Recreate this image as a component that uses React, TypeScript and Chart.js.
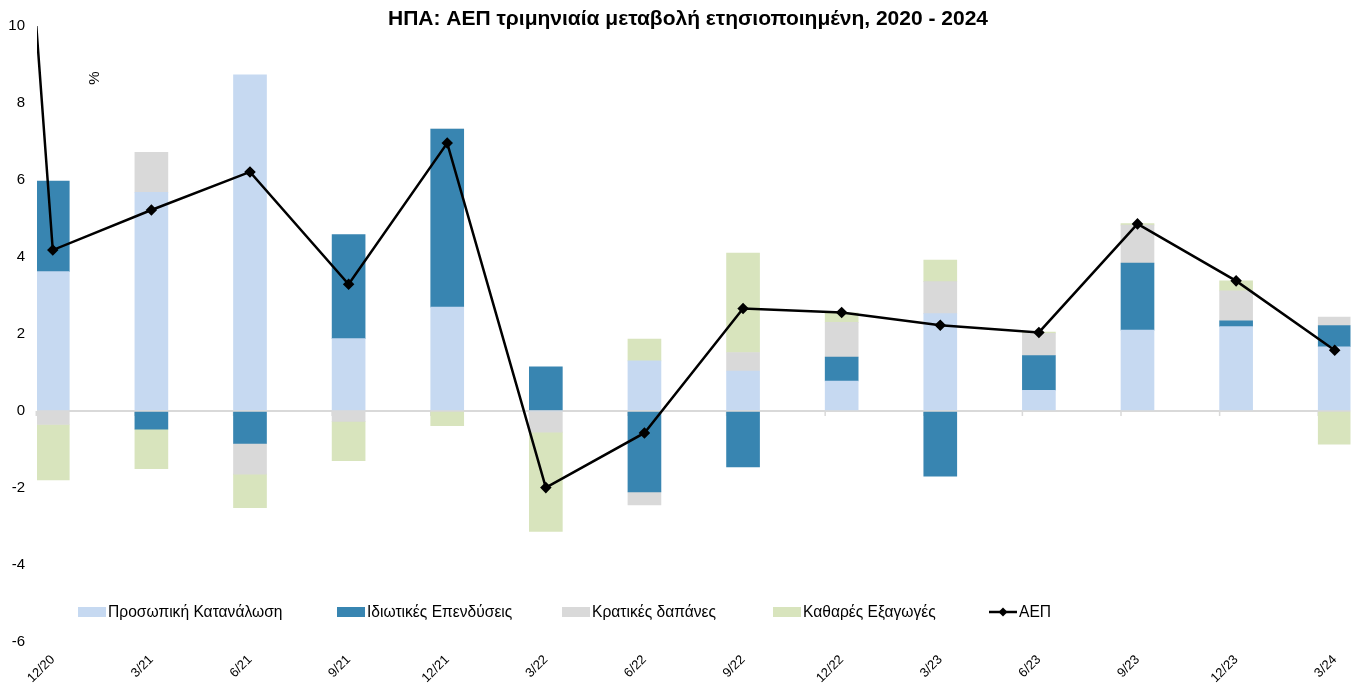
import React, { useEffect, useRef } from "react";
import { Chart, registerables } from "chart.js";

Chart.register(...registerables);

const TITLE = "ΗΠΑ: ΑΕΠ τριμηνιαία μεταβολή ετησιοποιημένη, 2020 - 2024";
const UNIT = "%";
const labels = ["12/20", "3/21", "6/21", "9/21", "12/21", "3/22", "6/22", "9/22", "12/22", "3/23", "6/23", "9/23", "12/23", "3/24"];
const seriesNames = ["Προσωπική Κατανάλωση", "Ιδιωτικές Επενδύσεις", "Κρατικές δαπάνες", "Καθαρές Εξαγωγές", "ΑΕΠ"];
const consumption = [3.62, 5.68, 8.73, 1.88, 2.7, 0, 1.3, 1.04, 0.78, 2.53, 0.54, 2.1, 2.19, 1.67];
const investment = [2.35, -0.47, -0.84, 2.7, 4.62, 1.15, -2.1, -1.45, 0.62, -1.69, 0.9, 1.74, 0.15, 0.55];
const government = [-0.35, 1.04, -0.8, -0.27, 0, -0.55, -0.34, 0.48, 0.9, 0.83, 0.58, 0.99, 0.78, 0.22];
const netExports = [-1.44, -1.03, -0.87, -1.02, -0.38, -2.58, 0.57, 2.58, 0.25, 0.56, 0.03, 0.04, 0.26, -0.86];
const gdp = [4.18, 5.22, 6.21, 3.29, 6.96, -1.99, -0.57, 2.66, 2.56, 2.23, 2.04, 4.86, 3.38, 1.58];
// previous quarter (9/20), outside the visible range; the line to it is clipped
const gdpPrevious = 39;
const yTicks = { min: -6, max: 10, step: 2 };

const colors = ["#c6d9f1", "#3885b1", "#d9d9d9", "#d8e4bd", "#000000"];
const FONT = "'Liberation Sans', Arial, sans-serif";
const BAR_W = 33;

export default function App() {
  const ref = useRef<HTMLCanvasElement | null>(null);
  useEffect(() => {
    document.body.style.margin = "0";
    const canvas = ref.current;
    if (!canvas) return;
    const toPts = (arr: number[]) => arr.map((v, i) => ({ x: i, y: v }));
    const barSets = [consumption, investment, government, netExports].map((arr, k) => ({
      type: "bar" as const,
      label: seriesNames[k],
      data: toPts(arr),
      backgroundColor: colors[k],
      borderWidth: 0,
      barThickness: BAR_W,
      stack: "bars",
      order: 1,
    }));
    const lineSet = {
      type: "line" as const,
      label: seriesNames[4],
      data: [{ x: -1, y: gdpPrevious }, ...toPts(gdp)],
      borderColor: colors[4],
      backgroundColor: colors[4],
      borderWidth: 2.5,
      pointStyle: "rectRot" as const,
      pointRadius: 4,
      pointHoverRadius: 4,
      tension: 0,
      stack: "line",
      order: 0,
      clip: { left: 0, top: 0, right: 8, bottom: 8 },
    };

    const zeroTicks = {
      id: "zeroTicks",
      beforeDatasetsDraw(chart: any) {
        const ctx = chart.ctx as CanvasRenderingContext2D;
        const xs = chart.scales.x;
        const ys = chart.scales.y;
        const y0 = ys.getPixelForValue(0);
        ctx.save();
        ctx.strokeStyle = "#d9d9d9";
        ctx.lineWidth = 1.5;
        for (let i = 0; i < labels.length; i++) {
          const x = xs.getPixelForValue(i) - BAR_W / 2;
          ctx.beginPath();
          ctx.moveTo(x, y0);
          ctx.lineTo(x, y0 + 5);
          ctx.stroke();
        }
        ctx.restore();
      },
    };

    const overlay = {
      id: "overlay",
      afterDraw(chart: any) {
        const ctx = chart.ctx as CanvasRenderingContext2D;
        ctx.save();
        // title
        ctx.fillStyle = "#000";
        ctx.font = `bold 21px ${FONT}`;
        ctx.textAlign = "center";
        ctx.textBaseline = "middle";
        ctx.fillText(TITLE, 688, 19);
        // unit label
        ctx.save();
        ctx.translate(95, 78);
        ctx.rotate(-Math.PI / 2);
        ctx.font = `15px ${FONT}`;
        ctx.fillText(UNIT, 0, 0);
        ctx.restore();
        // legend
        const lx = [78, 337, 562, 773, 989];
        const ly = 612;
        ctx.font = `15.6px ${FONT}`;
        ctx.textAlign = "left";
        ctx.textBaseline = "middle";
        for (let k = 0; k < 5; k++) {
          const x = lx[k];
          if (k < 4) {
            ctx.fillStyle = colors[k];
            ctx.fillRect(x, ly - 5, 28, 10);
          } else {
            ctx.strokeStyle = colors[4];
            ctx.lineWidth = 2.5;
            ctx.beginPath();
            ctx.moveTo(x, ly);
            ctx.lineTo(x + 28, ly);
            ctx.stroke();
            ctx.fillStyle = colors[4];
            ctx.beginPath();
            ctx.moveTo(x + 14, ly - 4.5);
            ctx.lineTo(x + 18.5, ly);
            ctx.lineTo(x + 14, ly + 4.5);
            ctx.lineTo(x + 9.5, ly);
            ctx.closePath();
            ctx.fill();
          }
          ctx.fillStyle = "#000";
          ctx.fillText(seriesNames[k], x + 30, ly + 1);
        }
        ctx.restore();
      },
    };

    const chart = new Chart(canvas, {
      data: { datasets: [...barSets, lineSet] as any },
      options: {
        animation: false,
        responsive: false,
        devicePixelRatio: 1,
        layout: { padding: { top: 26, right: 6, left: 0, bottom: 0 } },
        plugins: { legend: { display: false }, title: { display: false }, tooltip: { enabled: false } },
        scales: {
          x: {
            type: "linear",
            offset: false,
            min: -0.16,
            max: labels.length - 1 + 0.16,
            stacked: true,
            grid: { display: false, offset: false },
            border: { display: false },
            afterFit: (s: any) => { s.height = 43; },
            ticks: {
              stepSize: 1,
              includeBounds: false,
              autoSkip: false,
              maxRotation: 45,
              minRotation: 45,
              padding: 2,
              color: "#000",
              font: { family: FONT, size: 13 },
              callback: (v: any) => {
                const i = Math.round(Number(v));
                return Math.abs(Number(v) - i) < 1e-6 && i >= 0 && i < labels.length ? labels[i] : "";
              },
            },
          },
          y: {
            type: "linear",
            min: yTicks.min,
            max: yTicks.max,
            stacked: true,
            border: { display: false },
            afterFit: (s: any) => { s.width = 37; },
            grid: {
              drawTicks: false,
              lineWidth: 2,
              color: (c: any) => (c.tick && c.tick.value === 0 ? "#d9d9d9" : "rgba(0,0,0,0)"),
            },
            ticks: {
              stepSize: yTicks.step,
              padding: 12,
              color: "#000",
              font: { family: FONT, size: 15 },
            },
          },
        },
      },
      plugins: [zeroTicks, overlay],
    } as any);
    return () => chart.destroy();
  }, []);
  return (
    <div style={{ position: "fixed", left: 0, top: 0, width: 1357, height: 685, background: "#fff" }}>
      <canvas ref={ref} width={1357} height={685} />
    </div>
  );
}
